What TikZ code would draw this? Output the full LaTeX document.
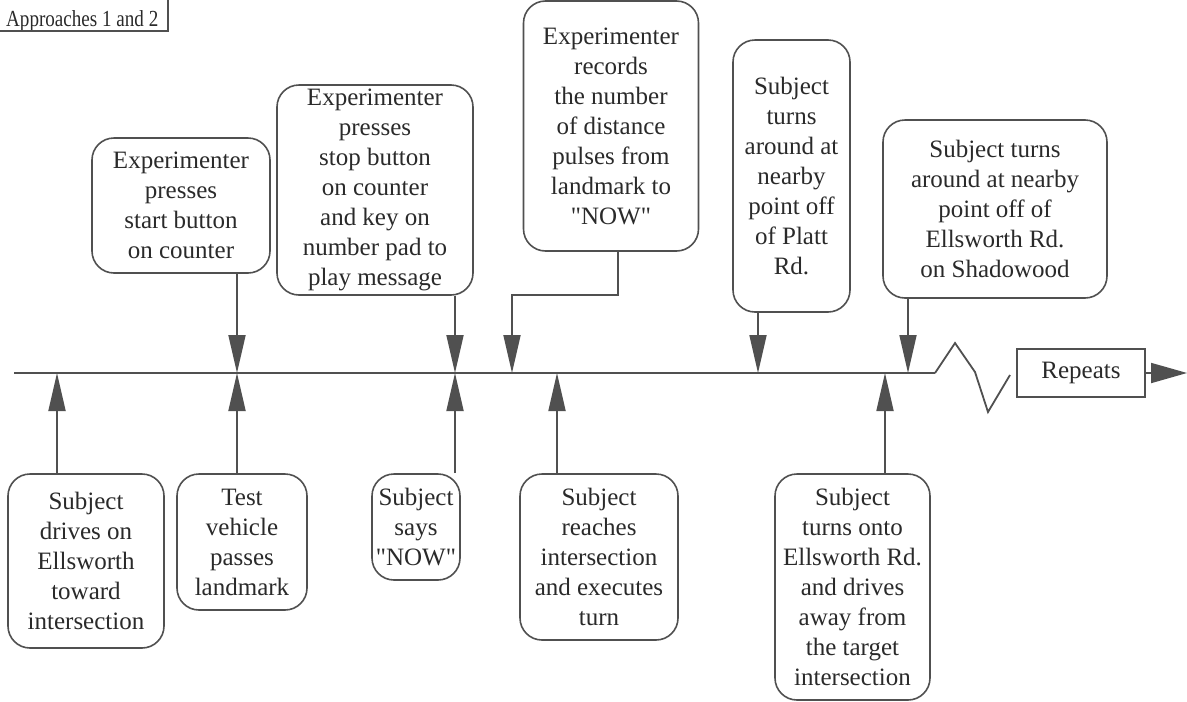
\documentclass[tikz,border=0pt]{standalone}
\usepackage{fontspec}
\setmainfont{Liberation Serif}[Ligatures=TeXOff]
\usetikzlibrary{arrows.meta}
\definecolor{linec}{HTML}{505050}
\definecolor{txtc}{HTML}{2A2A2A}
\tikzset{
  box/.style={draw=linec, line width=1.6pt, rounded corners=22pt, align=center,
    text=txtc, font=\fontsize{25}{30}\selectfont, inner sep=0pt},
  arr/.style={draw=linec, line width=1.8pt, -{Triangle[length=38pt,width=17pt]}},
  plain/.style={draw=linec, line width=1.8pt},
}
\begin{document}
\begin{tikzpicture}[x=1pt,y=-1pt]
\useasboundingbox (0,0) rectangle (1187,702);
% title
\node[anchor=base west, inner sep=0pt, text=txtc, font=\fontsize{23}{24}\selectfont] (title) at (6,26) {\scalebox{0.83}[1]{Approaches 1 and 2}};
\draw[draw=linec, line width=1.6pt] (-5,-5) rectangle (168,31);
% top boxes
\node[box, minimum width=178pt, minimum height=135pt] (b1) at (181,205.5) {Experimenter\\presses\\start button\\on counter};
\node[box, minimum width=196pt, minimum height=210pt] (b2) at (375,190) {Experimenter\\presses\\stop button\\on counter\\and key on\\number pad to\\play message};
\node[box, minimum width=175pt, minimum height=250pt] (b3) at (611,126) {Experimenter\\records\\the number\\of distance\\pulses from\\landmark to\\"NOW"};
\node[box, minimum width=117pt, minimum height=272pt] (b4) at (791.5,176) {Subject\\turns\\around at\\nearby\\point off\\of Platt\\Rd.};
\node[box, minimum width=224pt, minimum height=178pt] (b5) at (995,209) {Subject turns\\around at nearby\\point off of\\Ellsworth Rd.\\on Shadowood};
% bottom boxes
\node[box, minimum width=156pt, minimum height=174pt] (l1) at (86,561) {Subject\\drives on\\Ellsworth\\toward\\intersection};
\node[box, minimum width=130pt, minimum height=136pt] (l2) at (242,542) {Test\\vehicle\\passes\\landmark};
\node[box, minimum width=88pt, minimum height=106pt] (l3) at (416,527) {Subject\\says\\"NOW"};
\node[box, minimum width=158pt, minimum height=166pt] (l4) at (599,557) {Subject\\reaches\\intersection\\and executes\\turn};
\node[box, minimum width=155pt, minimum height=226pt] (l5) at (852.5,587) {Subject\\turns onto\\Ellsworth Rd.\\and drives\\away from\\the target\\intersection};
% timeline coordinates
\coordinate (ts) at (14,373);
\coordinate (te) at (935,373);
\coordinate (p1) at (57,373);
\coordinate (p2) at (237,373);
\coordinate (p3) at (455,373);
\coordinate (p4) at (512,373);
\coordinate (p5) at (557,373);
\coordinate (p6) at (758,373);
\coordinate (p7) at (885,373);
\coordinate (p8) at (908,373);
\coordinate (k1) at (618,295);
\coordinate (k2) at (512,295);
\draw[plain] (ts) -- (te);
% zigzag and repeats
\node[draw=linec, line width=1.6pt, text=txtc, font=\fontsize{25}{30}\selectfont,
  minimum width=128pt, minimum height=48pt, inner sep=0pt] (rep) at (1081,373) {Repeats};
\coordinate (z1) at (955,343);
\coordinate (z2) at (975,372);
\coordinate (z3) at (988,412);
\coordinate (z4) at (1010,375);
\coordinate (rend) at (1187,373);
\draw[plain, line join=miter] (te) -- (z1) -- (z2) -- (z3) -- (z4);
\draw[draw=linec, line width=1.8pt, -{Triangle[length=36pt,width=20pt]}] (rep.east) -- (rend);
% downward arrows
\draw[arr] (b1.south -| p2) -- (p2);
\draw[arr] (b2.south -| p3) -- (p3);
\draw[arr] (b3.south -| k1) -- (k1) -- (k2) -- (p4);
\draw[arr] (b4.south -| p6) -- (p6);
\draw[arr] (b5.south -| p8) -- (p8);
% upward arrows
\draw[arr] (l1.north -| p1) -- (p1);
\draw[arr] (l2.north -| p2) -- (p2);
\draw[arr] (l3.north -| p3) -- (p3);
\draw[arr] (l4.north -| p5) -- (p5);
\draw[arr] (l5.north -| p7) -- (p7);
\end{tikzpicture}
\end{document}
